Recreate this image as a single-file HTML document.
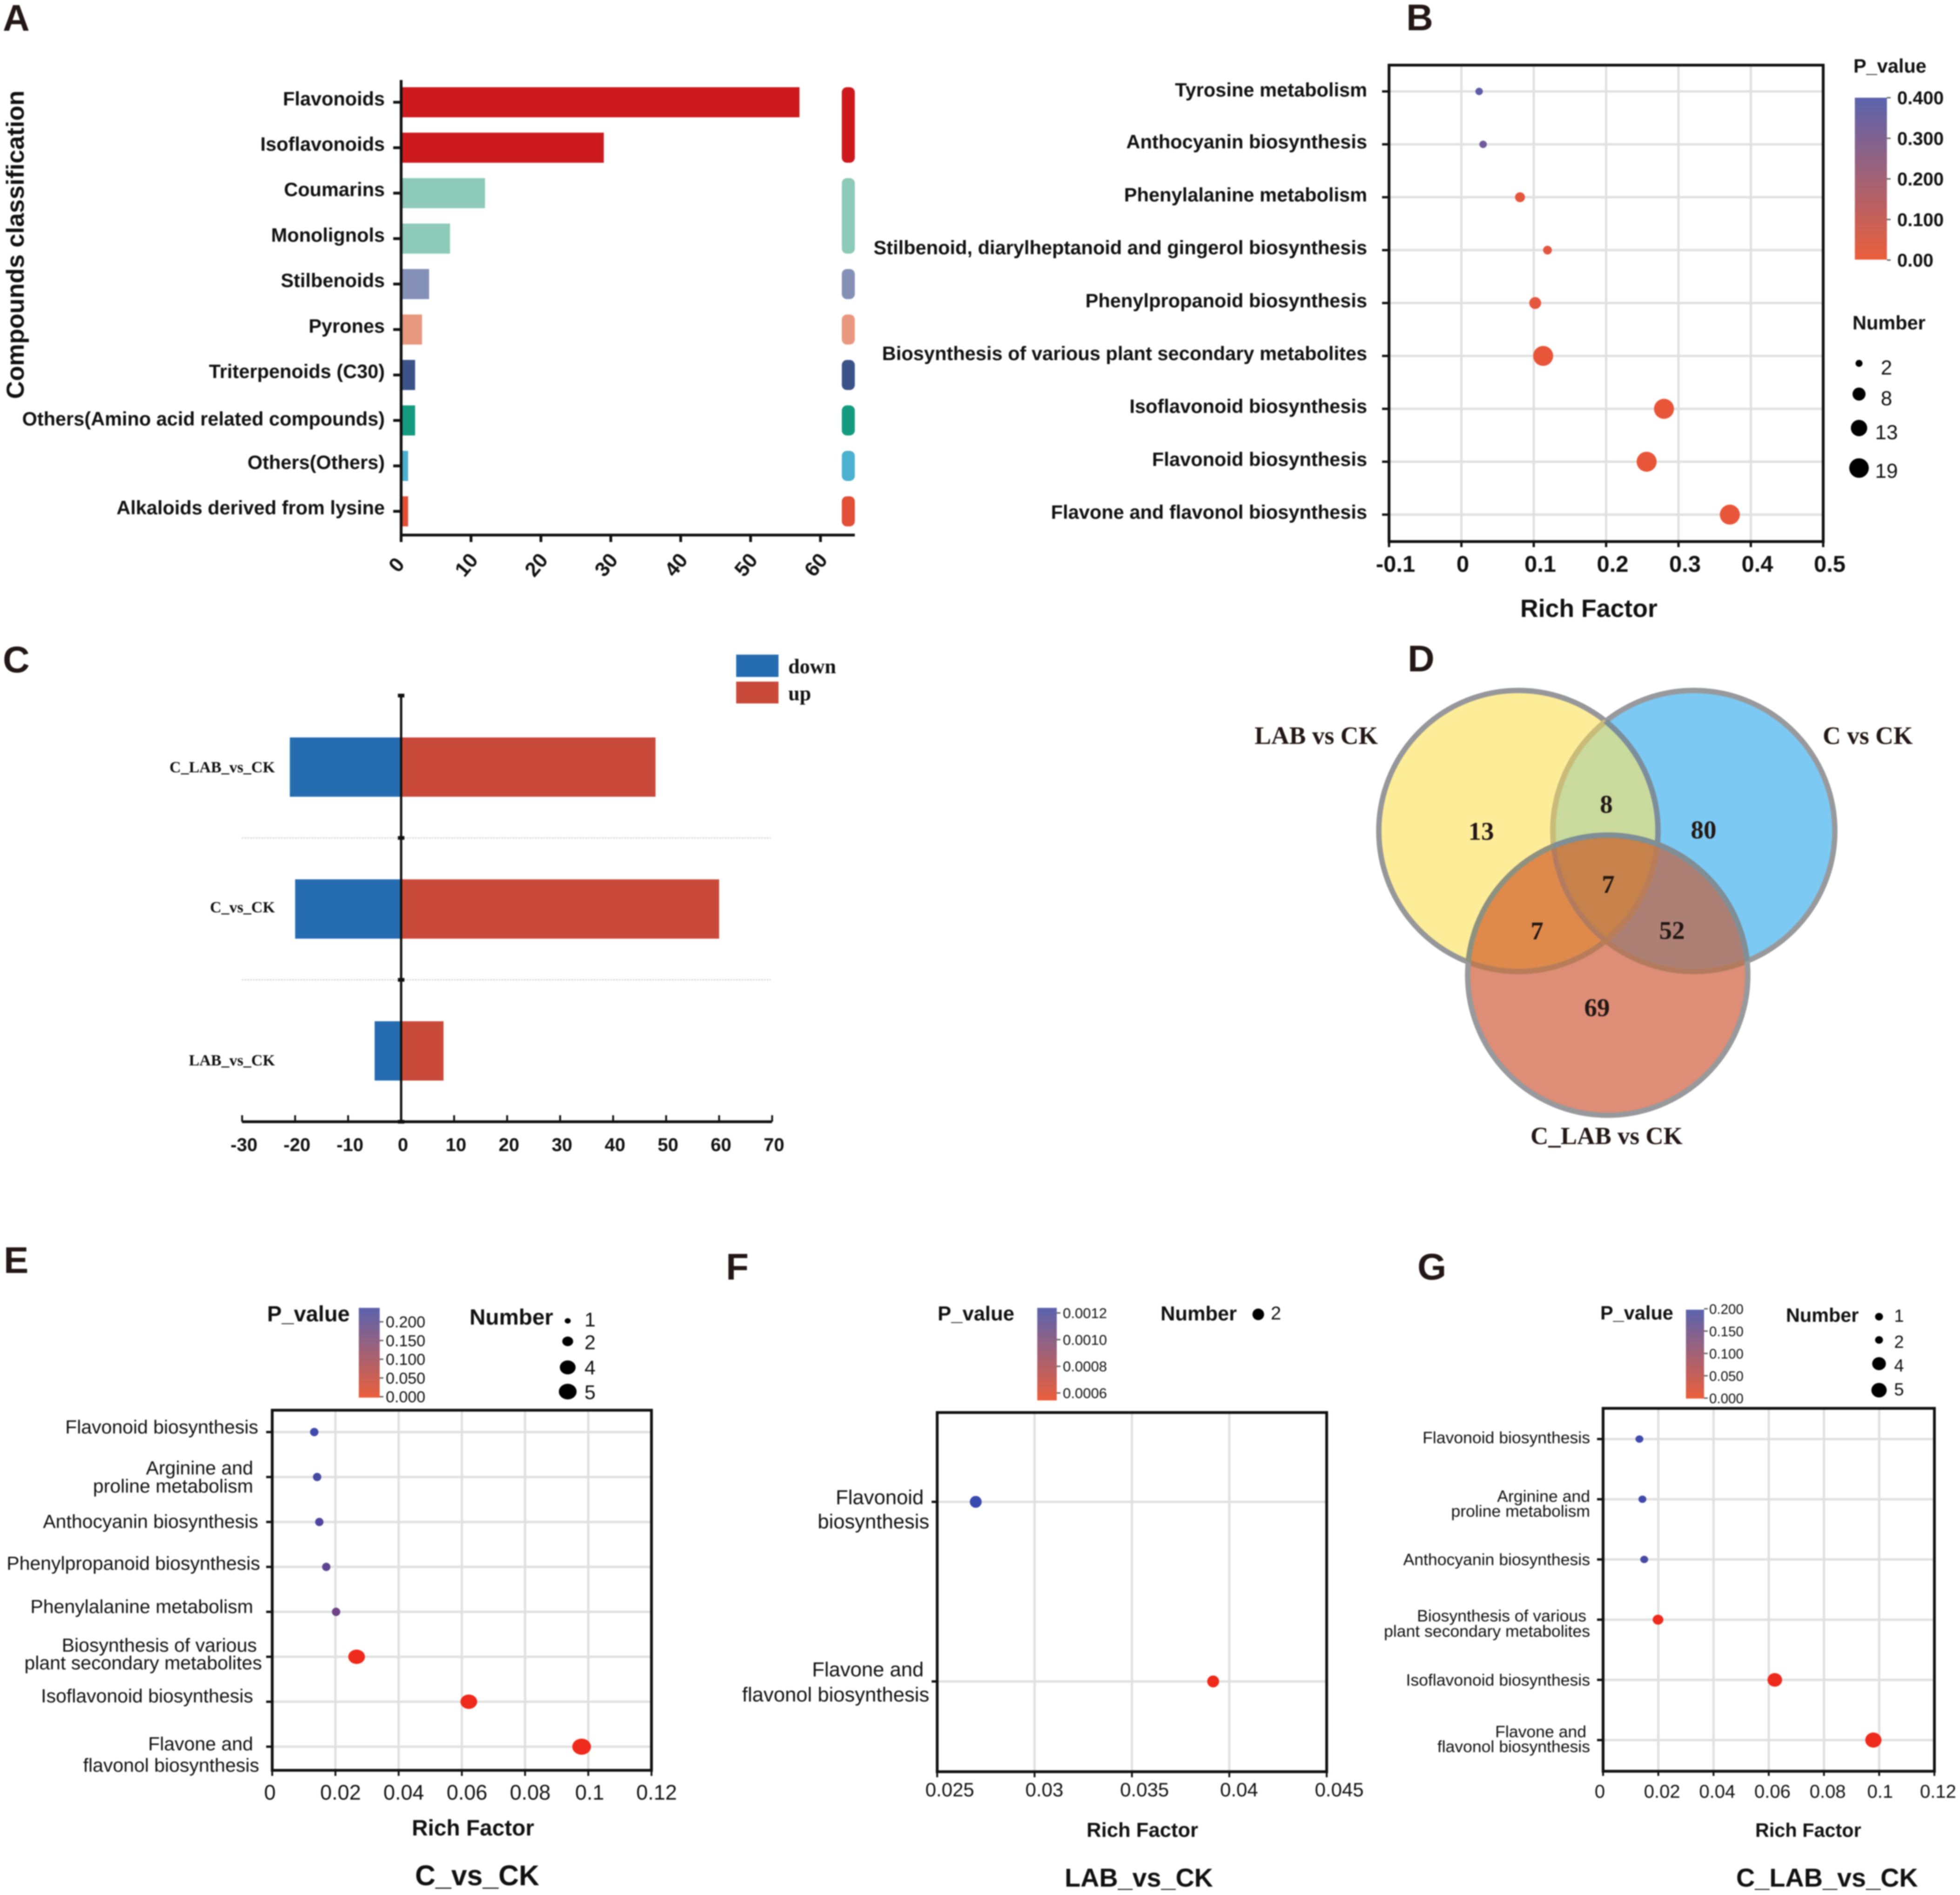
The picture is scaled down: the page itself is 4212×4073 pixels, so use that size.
<!DOCTYPE html>
<html lang="en">
<head>
<meta charset="utf-8">
<title>Metabolite enrichment figure</title>
<style>
html,body{margin:0;padding:0;background:#fff}
svg{display:block;filter:blur(1.2px)}
</style>
</head>
<body>
<svg id="fig" xmlns="http://www.w3.org/2000/svg" width="4212" height="4073" viewBox="0 0 4212 4073">
<defs>
<linearGradient id="pgrad" x1="0" y1="0" x2="0" y2="1">
<stop offset="0" stop-color="#5b63ae"/>
<stop offset="1" stop-color="#ea5f3b"/>
</linearGradient>
<clipPath id="clipY"><ellipse cx="3263" cy="1786" rx="300" ry="302"/></clipPath>
<clipPath id="clipB"><ellipse cx="3640" cy="1786" rx="303" ry="302"/></clipPath>
<clipPath id="clipR"><ellipse cx="3455" cy="2096" rx="301" ry="301"/></clipPath>
</defs>
<rect x="0" y="0" width="4212" height="4073" fill="#fff"/>

<g>
<ellipse cx="3263" cy="1786" rx="300" ry="302" fill="#fdec98"/>
<ellipse cx="3640" cy="1786" rx="303" ry="302" fill="#7cc9f3"/>
<g clip-path="url(#clipY)"><ellipse cx="3640" cy="1786" rx="303" ry="302" fill="#c9da9c"/></g>
<ellipse cx="3455" cy="2096" rx="301" ry="301" fill="#de8d76"/>
<g clip-path="url(#clipY)"><ellipse cx="3455" cy="2096" rx="301" ry="301" fill="#df8a4a"/></g>
<g clip-path="url(#clipB)"><ellipse cx="3455" cy="2096" rx="301" ry="301" fill="#ad8075"/></g>
<g clip-path="url(#clipY)"><g clip-path="url(#clipB)"><ellipse cx="3455" cy="2096" rx="301" ry="301" fill="#c6824a"/></g></g>
<g fill="none" stroke-width="11.5">
<ellipse cx="3640" cy="1786" rx="303" ry="302" stroke="#98999c"/>
<ellipse cx="3263" cy="1786" rx="300" ry="302" stroke="#96979a"/>
<g clip-path="url(#clipY)"><ellipse cx="3640" cy="1786" rx="303" ry="302" stroke="#c9bb78"/></g>
<g clip-path="url(#clipB)"><ellipse cx="3263" cy="1786" rx="300" ry="302" stroke="#7c8e9b"/></g>
<g clip-path="url(#clipR)">
<ellipse cx="3640" cy="1786" rx="303" ry="302" stroke="#b47a5e"/>
<ellipse cx="3263" cy="1786" rx="300" ry="302" stroke="#b87c58"/>
</g>
<ellipse cx="3455" cy="2096" rx="301" ry="301" stroke="#98999c"/>
<g clip-path="url(#clipY)"><ellipse cx="3455" cy="2096" rx="301" ry="301" stroke="#8f917f"/></g>
<g clip-path="url(#clipB)"><ellipse cx="3455" cy="2096" rx="301" ry="301" stroke="#7f8d95"/></g>
</g>
<g font-family="'Liberation Serif', serif" font-weight="bold" fill="#231815">
<text x="2696" y="1599" font-size="53.6">LAB vs CK</text>
<text x="3917" y="1599" font-size="53.6">C vs CK</text>
<text x="3289" y="2459" font-size="53">C_LAB vs CK</text>
<g font-size="55" text-anchor="middle">
<text x="3183" y="1805">13</text>
<text x="3452" y="1747">8</text>
<text x="3661" y="1802">80</text>
<text x="3456" y="1919">7</text>
<text x="3303" y="2019">7</text>
<text x="3593" y="2018">52</text>
<text x="3432" y="2184">69</text>
</g>
</g>
</g>

<g font-family="'Liberation Sans', sans-serif" font-weight="bold" font-size="80" fill="#231815">
<text x="6" y="66">A</text>
<text x="3022" y="65">B</text>
<text x="6" y="1445">C</text>
<text x="3025" y="1443">D</text>
<text x="8" y="2736">E</text>
<text x="1560" y="2750">F</text>
<text x="3046" y="2750">G</text>
</g>
</svg>

<script>
// ---- Panel A data ----
const aCategories = ['Flavonoids','Isoflavonoids','Coumarins','Monolignols','Stilbenoids','Pyrones','Triterpenoids (C30)','Others(Amino acid related compounds)','Others(Others)','Alkaloids derived from lysine'];
const aValues = [57,29,12,7,4,3,2,2,1,1];
const aGroups = [0,0,1,1,2,3,4,5,6,7];
const aGroupColors = ['#cc1a1e','#8dcab7','#8490b5','#e99880','#3c5387','#149b80','#4cb0cf','#e04f36'];
const aXTicks = [0,10,20,30,40,50,60];

// ---- Panel B data ----
const bCategories = ['Tyrosine metabolism','Anthocyanin biosynthesis','Phenylalanine metabolism','Stilbenoid, diarylheptanoid and gingerol biosynthesis','Phenylpropanoid biosynthesis','Biosynthesis of various plant secondary metabolites','Isoflavonoid biosynthesis','Flavonoid biosynthesis','Flavone and flavonol biosynthesis'];
const bRichFactor = [0.0245,0.030,0.081,0.119,0.102,0.113,0.280,0.256,0.371];
const bPValue = [0.38,0.33,0.01,0.02,0.01,0.001,0.001,0.001,0.001];
const bNumber = [2,2,4,3,6,19,19,19,19];
const bXTicks = [-0.1,0,0.1,0.2,0.3,0.4,0.5];
const bXTickLabels = ['-0.1','0','0.1','0.2','0.3','0.4','0.5'];
const bColorTicks = [0.4,0.3,0.2,0.1,0];
const bColorTickLabels = ['0.400','0.300','0.200','0.100','0.00'];
const bLegendNumbers = [2,8,13,19];

// ---- Panel C data ----
const cCategories = ['C_LAB_vs_CK','C_vs_CK','LAB_vs_CK'];
const cDown = [21,20,5];
const cUp = [48,60,8];
const cXTicks = [-30,-20,-10,0,10,20,30,40,50,60,70];

// ---- Panel E data ----
const eCategories = ['Flavonoid biosynthesis','Arginine and proline metabolism','Anthocyanin biosynthesis','Phenylpropanoid biosynthesis','Phenylalanine metabolism','Biosynthesis of various plant secondary metabolites','Isoflavonoid biosynthesis','Flavone and flavonol biosynthesis'];
const eRichFactor = [0.0133,0.0142,0.0149,0.0171,0.0202,0.0267,0.0622,0.0979];
const ePValue = [0.23,0.22,0.21,0.19,0.17,0.001,0.001,0.001];
const eNumber = [1,1,1,1,1,4,4,5];
const eXTicks = [0,0.02,0.04,0.06,0.08,0.1,0.12];
const eXTickLabels = ['0','0.02','0.04','0.06','0.08','0.1','0.12'];
const eColorTicks = [0.2,0.15,0.1,0.05,0];
const eColorTickLabels = ['0.200','0.150','0.100','0.050','0.000'];
const eLegendNumbers = [1,2,4,5];

// ---- Panel F data ----
const fCategories = ['Flavonoid biosynthesis','Flavone and flavonol biosynthesis'];
const fRichFactor = [0.02698,0.03917];
const fPValue = [0.00125,0.0006];
const fNumber = [2,2];
const fXTicks = [0.025,0.03,0.035,0.04,0.045];
const fXTickLabels = ['0.025','0.03','0.035','0.04','0.045'];
const fColorTicks = [0.0012,0.001,0.0008,0.0006];
const fColorTickLabels = ['0.0012','0.0010','0.0008','0.0006'];

// ---- Panel G data ----
const gCategories = ['Flavonoid biosynthesis','Arginine and proline metabolism','Anthocyanin biosynthesis','Biosynthesis of various plant secondary metabolites','Isoflavonoid biosynthesis','Flavone and flavonol biosynthesis'];
const gRichFactor = [0.01315,0.01424,0.0149,0.0199,0.0622,0.0979];
const gPValue = [0.195,0.19,0.185,0.001,0.001,0.001];
const gNumber = [1,1,1,2,4,5];
const gXTicks = [0,0.02,0.04,0.06,0.08,0.1,0.12];
const gXTickLabels = ['0','0.02','0.04','0.06','0.08','0.1','0.12'];
const gColorTicks = [0.2,0.15,0.1,0.05,0];
const gColorTickLabels = ['0.200','0.150','0.100','0.050','0.000'];
const gLegendNumbers = [1,2,4,5];

const NS = 'http://www.w3.org/2000/svg';
const svg = document.getElementById('fig');
const SANS = '"Liberation Sans", sans-serif';
const SERIF = '"Liberation Serif", serif';
const GRID = '#e0e0e0';

function make(tag, name, props) {
  const e = document.createElementNS(NS, tag);
  
  
  for (const k in props) e.setAttribute(k, props[k]);
  svg.appendChild(e);
  return e;
}
function T(str, x, y, size, name, o) {
  o = o || {};
  const e = make('text', name, {
    x: x, y: y, 'font-size': size,
    'font-family': o.family || SANS,
    'font-weight': o.bold ? 'bold' : 'normal',
    'text-anchor': o.anchor || 'start',
    fill: o.fill || '#111'
  });
  if (o.rotate !== undefined) e.setAttribute('transform', 'rotate(' + o.rotate + ' ' + (o.rx === undefined ? x : o.rx) + ' ' + (o.ry === undefined ? y : o.ry) + ')');
  if (o.len) { e.setAttribute('textLength', o.len); e.setAttribute('lengthAdjust', 'spacingAndGlyphs'); }
  e.textContent = str;
  return e;
}
function R(x, y, w, h, fill, name, rx) {
  const e = make('rect', name, { x: x, y: y, width: w, height: h, fill: fill });
  if (rx) e.setAttribute('rx', rx);
  return e;
}
function Ln(x1, y1, x2, y2, stroke, w, name, dash) {
  const e = make('line', name, { x1: x1, y1: y1, x2: x2, y2: y2, stroke: stroke, 'stroke-width': w });
  if (dash) e.setAttribute('stroke-dasharray', dash);
  return e;
}
function Dot(cx, cy, rx, ry, fill, name) {
  return make('ellipse', name, { cx: cx, cy: cy, rx: rx, ry: ry, fill: fill });
}
function hex2(n) { const s = Math.round(n).toString(16); return s.length < 2 ? '0' + s : s; }
function lerpColor(a, b, t) {
  t = Math.max(0, Math.min(1, t));
  return '#' + hex2(a[0] + (b[0] - a[0]) * t) + hex2(a[1] + (b[1] - a[1]) * t) + hex2(a[2] + (b[2] - a[2]) * t);
}

// ---------- Panel A ----------
(function () {
  const x = v => 862 + v * 15.02;
  const bandTop = i => 187.4 + i * 97.7;
  const barH = 64.7;
  aCategories.forEach((c, i) => {
    const color = aGroupColors[aGroups[i]];
    R(x(0), bandTop(i), x(aValues[i]) - x(0), barH, color, 'bar-' + c);
    Ln(845, bandTop(i) + barH / 2, 862, bandTop(i) + barH / 2, '#111', 6, 'y-tick-' + c);
    T(c, 827, bandTop(i) + barH / 2 + (i === 7 ? 11 : 6.5), 41.5, 'category-label-' + c, { bold: true, anchor: 'end' });
  });
  aGroupColors.forEach((color, g) => {
    const first = aGroups.indexOf(g), last = aGroups.lastIndexOf(g);
    R(1809, bandTop(first), 28, bandTop(last) + barH - bandTop(first), color, 'class-strip-' + g, 11);
  });
  Ln(862, 172, 862, 1165, '#111', 6, 'y-axis-line');
  Ln(860, 1150, 1837, 1150, '#111', 6, 'x-axis-line');
  aXTicks.forEach(t => {
    Ln(x(t), 1150, x(t), 1165, '#111', 6, 'x-tick-' + t);
    T(String(t), x(t) - 10, 1229, 44, 'x-tick-label-' + t, { bold: true, anchor: 'middle', rotate: -50, rx: x(t) - 10, ry: 1214 });
  });
  T('Compounds classification', 51, 526, 53, 'y-axis-title', { bold: true, anchor: 'middle', rotate: -90, len: 663 });
})();

// ---------- Generic bubble helpers ----------
function frame(prefix, L, Rt, Tp, B, sw) {
  Ln(L - sw / 2, Tp, Rt + sw / 2, Tp, '#111', sw, prefix + '-frame-top');
  Ln(Rt, Tp, Rt, B, '#111', sw, prefix + '-frame-right');
  Ln(L - sw / 2, B, Rt + sw / 2, B, '#111', sw, prefix + '-frame-bottom');
  Ln(L, Tp, L, B, '#111', sw, prefix + '-frame-left');
}
function colorbar(prefix, x0, x1, top, bot, ticks, labels, yOf, lx, size, base, bold) {
  R(x0, top, x1 - x0, bot - top, 'url(#pgrad)', prefix + '-colorbar');
  ticks.forEach((t, i) => {
    Ln(x1, yOf(t), x1 + 8, yOf(t), '#666', 3, prefix + '-colorbar-tick-' + labels[i]);
    T(labels[i], lx, yOf(t) + base, size, prefix + '-colorbar-label-' + labels[i], { bold: bold });
  });
}

// ---------- Panel B ----------
(function () {
  const L = 2985, Rt = 3918, Tp = 140, Bt = 1164;
  const x = v => 3140.5 + v * 1555;
  const y = i => 196.5 + i * 113.7;
  const d = n => 3 + 9.2 * Math.sqrt(n);
  const low = [232, 86, 58], high = [88, 92, 176];
  bXTicks.forEach(t => {
    if (t > -0.1 && t < 0.5) Ln(x(t), Tp, x(t), Bt, GRID, 5, 'b-gridline-x-' + t);
  });
  bCategories.forEach((c, i) => {
    Ln(L, y(i), Rt, y(i), GRID, 5, 'b-gridline-y-' + i);
    Ln(2970, y(i), L, y(i), '#111', 5, 'b-y-tick-' + i);
    T(c, 2938, y(i) + (i === 0 ? 11 : 9), 41.6, 'b-category-label-' + i, { bold: true, anchor: 'end' });
  });
  frame('b', L, Rt, Tp, Bt, 6);
  bCategories.forEach((c, i) => {
    const r = d(bNumber[i]) / 2;
    Dot(x(bRichFactor[i]), y(i), r, r, lerpColor(low, high, bPValue[i] / 0.4), 'b-point-' + c);
  });
  bXTicks.forEach((t, i) => {
    Ln(x(t), Bt, x(t), 1176, '#111', 5, 'b-x-tick-' + bXTickLabels[i]);
    T(bXTickLabels[i], x(t) + (bXTickLabels[i] === '0' ? 3 : 14), 1229, 49, 'b-x-tick-label-' + bXTickLabels[i], { bold: true, anchor: 'middle' });
  });
  T('Rich Factor', 3267, 1326, 53.6, 'b-x-axis-title', { bold: true });
  T('P_value', 3983, 156, 41.5, 'b-colorbar-title', { bold: true });
  colorbar('b', 3986, 4055, 210, 558, bColorTicks, bColorTickLabels, v => 559 - v / 0.4 * 349, 4077, 40, 14, true);
  T('Number', 3981, 708, 41.5, 'b-size-legend-title', { bold: true });
  const legY = n => n === 2 ? 781 : n === 8 ? 847 : n === 13 ? 920 : 1006;
  const legBase = n => n === 2 ? 805 : n === 8 ? 871 : n === 13 ? 944 : 1027;
  bLegendNumbers.forEach(n => {
    const r = (d(n) - 1) / 2;
    Dot(3995, legY(n), r, r, '#000', 'b-size-legend-dot-' + n);
    T(String(n), 4054, legBase(n), 44, 'b-size-legend-label-' + n, { anchor: 'middle' });
  });
})();

// ---------- Panel C ----------
(function () {
  const x = v => 862 + v * 11.39;
  const top = i => 1585 + i * 305;
  const h = 127.5;
  Ln(520, 1801, 1656, 1801, '#cfcfcf', 3, 'c-separator-1', '3 3');
  Ln(520, 2106, 1656, 2106, '#cfcfcf', 3, 'c-separator-2', '3 3');
  cCategories.forEach((c, i) => {
    R(x(-cDown[i]), top(i), x(0) - x(-cDown[i]), h, '#256db0', 'bar-down-' + c);
    R(x(0), top(i), x(cUp[i]) - x(0), h, '#c94a3a', 'bar-up-' + c);
    T(c, 591, top(i) + h / 2 + (i === 2 ? 31 : i === 1 ? 7 : 11), 34, 'c-category-label-' + c, { family: SERIF, bold: true, anchor: 'end' });
  });
  Ln(862, 1495, 862, 2411, '#111', 5, 'c-zero-axis-line');
  Ln(520, 2411, 1659, 2411, '#111', 6, 'c-x-axis-line');
  R(855, 1491, 14, 8, '#111', 'c-axis-cap-top');
  R(855, 1797, 14, 8, '#111', 'c-axis-cap-2');
  R(855, 2102, 14, 8, '#111', 'c-axis-cap-3');
  R(855, 2407, 14, 8, '#111', 'c-axis-cap-bottom');
  cXTicks.forEach(t => {
    Ln(x(t), 2397, x(t), 2411, '#111', 4, 'c-x-tick-' + t);
    T(String(t), x(t) + 4, 2474, 40, 'c-x-tick-label-' + t, { bold: true, anchor: 'middle' });
  });
  R(1582, 1407, 91, 48, '#256db0', 'c-legend-swatch-down');
  T('down', 1694, 1447, 44, 'c-legend-label-down', { family: SERIF, bold: true });
  R(1582, 1465, 91, 47, '#c94a3a', 'c-legend-swatch-up');
  T('up', 1694, 1505, 44, 'c-legend-label-up', { family: SERIF, bold: true });
})();

const dotLow = [238, 42, 27], dotHigh = [58, 75, 176];

// ---------- Panel E ----------
(function () {
  const L = 585, Rt = 1400, Tp = 3031, Bt = 3805;
  const x = v => L + v * 6792;
  const y = i => 3078 + i * 96.6;
  const w = n => 18 * Math.sqrt(n);
  eXTicks.forEach(t => { if (t > 0 && t < 0.12) Ln(x(t), Tp, x(t), Bt, GRID, 5, 'e-gridline-x-' + t); });
  eCategories.forEach((c, i) => {
    Ln(L, y(i), Rt, y(i), GRID, 5, 'e-gridline-y-' + i);
    Ln(572, y(i), L, y(i), '#111', 5, 'e-y-tick-' + i);
  });
  frame('e', L, Rt, Tp, Bt, 6);
  eCategories.forEach((c, i) => {
    const W = w(eNumber[i]);
    Dot(x(eRichFactor[i]), y(i), W / 2, W / 2 * (eNumber[i] > 1 ? 0.86 : 1), lerpColor(dotLow, dotHigh, ePValue[i] / 0.2375), 'e-point-' + c);
  });
  eXTicks.forEach((t, i) => {
    const s = eXTickLabels[i];
    Ln(x(t), Bt, x(t), 3817, '#111', 4, 'e-x-tick-' + s);
    T(s, x(t) + (s === '0' ? -5 : s === '0.1' ? 3 : 11), 3868, 45, 'e-x-tick-label-' + s, { anchor: 'middle' });
  });
  const lab = (s, r, b) => T(s, r, b, 41, 'e-category-label', { anchor: 'end' });
  lab('Flavonoid biosynthesis', 555, 3081);
  lab('Arginine and', 544, 3169);
  lab('proline metabolism', 544, 3208);
  lab('Anthocyanin biosynthesis', 555, 3284);
  lab('Phenylpropanoid biosynthesis', 559, 3374);
  lab('Phenylalanine metabolism', 544, 3467);
  lab('Biosynthesis of various', 552, 3550);
  lab('plant secondary metabolites', 563, 3588);
  lab('Isoflavonoid biosynthesis', 544, 3659);
  lab('Flavone and', 544, 3762);
  lab('flavonol biosynthesis', 557, 3808);
  T('Rich Factor', 885, 3945, 47.8, 'e-x-axis-title', { bold: true });
  T('C_vs_CK', 892, 4052, 60.8, 'e-panel-title', { bold: true });
  T('P_value', 574, 2840, 47, 'e-colorbar-title', { bold: true });
  colorbar('e', 771, 816, 2811, 3004, eColorTicks, eColorTickLabels, v => 3002 - v / 0.2 * 161, 829, 34, 12, false);
  T('Number', 1009, 2847, 47.6, 'e-size-legend-title', { bold: true });
  const ly = n => n === 1 ? 2839 : n === 2 ? 2883 : n === 4 ? 2939 : 2991;
  const lb = n => n === 1 ? 2851 : n === 2 ? 2900 : n === 4 ? 2954 : 3007;
  eLegendNumbers.forEach(n => {
    const W = n === 1 ? 13 : w(n) - 2;
    Dot(1220, ly(n), W / 2, W / 2 * 0.88, '#000', 'e-size-legend-dot-' + n);
    T(String(n), 1268, lb(n), 43, 'e-size-legend-label-' + n, { anchor: 'middle' });
  });
})();

// ---------- Panel F ----------
(function () {
  const L = 2014, Rt = 2851, Tp = 3036, Bt = 3808;
  const x = v => L + (v - 0.025) * 41850;
  const y = i => 3228 + i * 386;
  fXTicks.forEach(t => { if (t > 0.025 && t < 0.045) Ln(x(t), Tp, x(t), Bt, GRID, 5, 'f-gridline-x-' + t); });
  fCategories.forEach((c, i) => {
    Ln(L, y(i), Rt, y(i), GRID, 5, 'f-gridline-y-' + i);
    Ln(2002, y(i), L, y(i), '#111', 5, 'f-y-tick-' + i);
  });
  frame('f', L, Rt, Tp, Bt, 6);
  fCategories.forEach((c, i) => {
    const r = 6.4 * fNumber[i];
    Dot(x(fRichFactor[i]), y(i), r, r, lerpColor(dotLow, dotHigh, (fPValue[i] - 0.0006) / 0.00065), 'f-point-' + c);
  });
  fXTicks.forEach((t, i) => {
    const s = fXTickLabels[i];
    Ln(x(t), Bt, x(t), 3820, '#111', 4, 'f-x-tick-' + s);
    T(s, x(t) + (s.length > 4 ? 27 : 21), 3861, 42, 'f-x-tick-label-' + s, { anchor: 'middle' });
  });
  const lab = (s, r, b) => T(s, r, b, 43.6, 'f-category-label', { anchor: 'end' });
  lab('Flavonoid', 1985, 3233);
  lab('biosynthesis', 1997, 3285);
  lab('Flavone and', 1985, 3603);
  lab('flavonol biosynthesis', 1997, 3657);
  T('Rich Factor', 2335, 3948, 43.6, 'f-x-axis-title', { bold: true });
  T('LAB_vs_CK', 2288, 4055, 55.7, 'f-panel-title', { bold: true });
  T('P_value', 2015, 2838, 43.6, 'f-colorbar-title', { bold: true });
  colorbar('f', 2229, 2271, 2811, 3010, fColorTicks, fColorTickLabels, v => 2994 - (v - 0.0006) / 0.0006 * 172, 2284, 31, 11, false);
  T('Number', 2494, 2838, 43.4, 'f-size-legend-title', { bold: true });
  Dot(2704, 2825, 12.5, 12.5, '#000', 'f-size-legend-dot-2');
  T('2', 2742, 2836, 40, 'f-size-legend-label-2', { anchor: 'middle' });
})();

// ---------- Panel G ----------
(function () {
  const L = 3445, Rt = 4157, Tp = 3027, Bt = 3807;
  const x = v => L + v * 5933;
  const y = i => 3093 + i * 129.4;
  const w = n => 14.5 * Math.sqrt(n) + 2.5;
  gXTicks.forEach(t => { if (t > 0 && t < 0.12) Ln(x(t), Tp, x(t), Bt, GRID, 5, 'g-gridline-x-' + t); });
  gCategories.forEach((c, i) => {
    Ln(L, y(i), Rt, y(i), GRID, 5, 'g-gridline-y-' + i);
    Ln(3432, y(i), L, y(i), '#111', 5, 'g-y-tick-' + i);
  });
  frame('g', L, Rt, Tp, Bt, 6);
  gCategories.forEach((c, i) => {
    const W = w(gNumber[i]);
    Dot(x(gRichFactor[i]), y(i), W / 2, W / 2 * 0.93, lerpColor(dotLow, dotHigh, gPValue[i] / 0.2), 'g-point-' + c);
  });
  gXTicks.forEach((t, i) => {
    const s = gXTickLabels[i];
    Ln(x(t), Bt, x(t), 3817, '#111', 4, 'g-x-tick-' + s);
    T(s, x(t) + (s === '0' ? -7 : s === '0.1' ? 2 : 8), 3864, 40, 'g-x-tick-label-' + s, { anchor: 'middle' });
  });
  const lab = (s, r, b) => T(s, r, b, 35.6, 'g-category-label', { anchor: 'end' });
  lab('Flavonoid biosynthesis', 3417, 3102);
  lab('Arginine and', 3417, 3228);
  lab('proline metabolism', 3417, 3260);
  lab('Anthocyanin biosynthesis', 3417, 3364);
  lab('Biosynthesis of various', 3409, 3485);
  lab('plant secondary metabolites', 3417, 3518);
  lab('Isoflavonoid biosynthesis', 3417, 3623);
  lab('Flavone and', 3409, 3734);
  lab('flavonol biosynthesis', 3417, 3766);
  T('Rich Factor', 3772, 3948, 41.4, 'g-x-axis-title', { bold: true });
  T('C_LAB_vs_CK', 3731, 4055, 55.8, 'g-panel-title', { bold: true });
  T('P_value', 3439, 2836, 41.5, 'g-colorbar-title', { bold: true });
  colorbar('g', 3623, 3662, 2815, 3006, gColorTicks, gColorTickLabels, v => 3005 - v / 0.2 * 192, 3673, 29.5, 11, false);
  T('Number', 3838, 2841, 41.4, 'g-size-legend-title', { bold: true });
  const ly = n => n === 1 ? 2830 : n === 2 ? 2880 : n === 4 ? 2931 : 2988;
  const lb = n => n === 1 ? 2841 : n === 2 ? 2897 : n === 4 ? 2948 : 2999;
  gLegendNumbers.forEach(n => {
    const W = n <= 2 ? 17 : w(n) - 2;
    Dot(4038, ly(n), W / 2, W / 2 * 0.95, '#000', 'g-size-legend-dot-' + n);
    T(String(n), 4081, lb(n), 38, 'g-size-legend-label-' + n, { anchor: 'middle' });
  });
})();
</script>
</body>
</html>
